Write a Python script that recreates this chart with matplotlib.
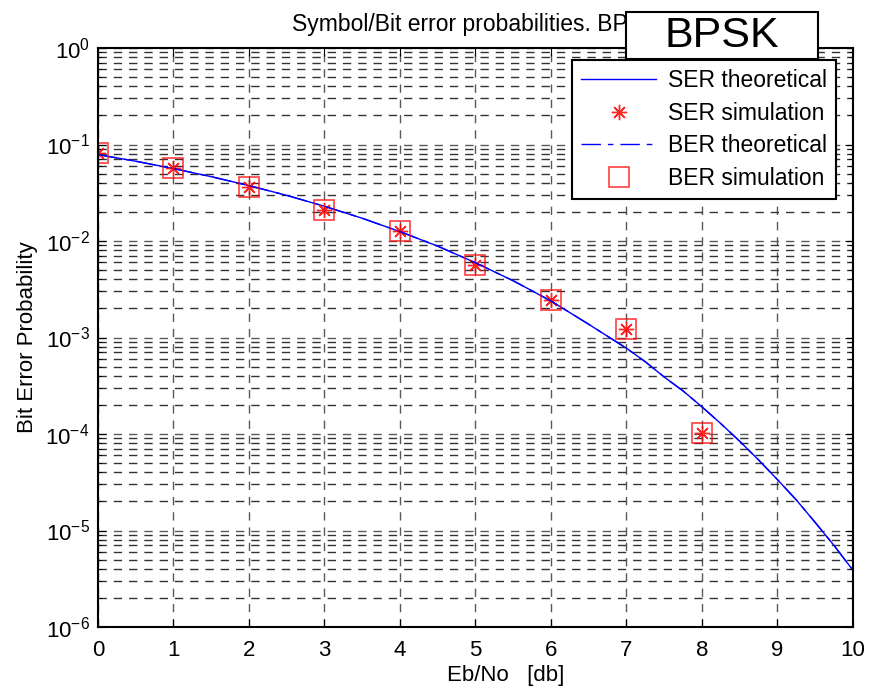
import math

import matplotlib
matplotlib.use("Agg")
import matplotlib.pyplot as plt
from matplotlib.patches import Rectangle
from matplotlib.ticker import FixedLocator, FuncFormatter, LogLocator

plt.rcParams["font.family"] = ["Liberation Sans", "DejaVu Sans"]
plt.rcParams["mathtext.fontset"] = "custom"
plt.rcParams["mathtext.rm"] = "Liberation Sans"
plt.rcParams["mathtext.it"] = "Liberation Sans"
plt.rcParams["mathtext.default"] = "regular"

# theoretical curve
ebno_theory = [0, 0.5, 1, 1.5, 2, 2.5, 3, 3.5, 4, 4.5, 5, 5.5, 6, 6.5, 7,
               7.25, 7.5, 7.75, 8, 8.25, 8.5, 8.75, 9, 9.25, 9.5, 9.75, 10]
ber_theory = [0.0786, 0.0671, 0.0563, 0.0464, 0.0375, 0.0297, 0.0229, 0.0172,
              0.0125, 0.00884, 0.00595, 0.00387, 0.00239, 0.00137, 0.000773,
              0.00056, 0.000389, 0.000279, 0.000191, 0.000128, 8.4e-5, 5.38e-5,
              3.36e-5, 2.07e-5, 1.21e-5, 6.97e-6, 3.87e-6]
ser_theory = ber_theory

# simulation points
ebno_sim = [0, 1, 2, 3, 4, 5, 6, 7, 8]
ser_sim = [0.0817, 0.0571, 0.0363, 0.021, 0.0127, 0.00564, 0.00245, 0.001225, 0.000102]
ber_sim = ser_sim

fig = plt.figure(figsize=(8.7, 6.95), dpi=100)
ax = fig.add_axes([98 / 870, 68 / 695, 755 / 870, 579 / 695])

ax.semilogy(ebno_theory, ser_theory, "-", color="blue", lw=1, label="SER theoretical")
ax.semilogy(ebno_sim, ser_sim, marker=(8, 2, 0), ls="none", color="red", ms=11,
            mew=1, alpha=0.85, label="SER simulation")
ax.semilogy(ebno_theory, ber_theory, color="blue", lw=1, dashes=(14, 5, 4, 5),
            label="BER theoretical")
ax.semilogy(ebno_sim, ber_sim, "s", color="red", mfc="none", ms=14, mew=1.2,
            alpha=0.75, label="BER simulation")

ax.set_xlim(0, 10)
ax.set_ylim(1e-6, 1)
ax.xaxis.set_major_locator(FixedLocator(range(0, 11)))
ax.yaxis.set_major_locator(LogLocator(base=10, numticks=10))
ax.yaxis.set_minor_locator(LogLocator(base=10, subs=range(2, 10), numticks=20))
ax.yaxis.set_major_formatter(
    FuncFormatter(lambda v, p: r"$10^{%d}$" % round(math.log10(v))))
ax.tick_params(which="both", direction="in", top=True, right=True, labelsize=16)
ax.tick_params(which="major", length=6)
ax.tick_params(which="minor", length=3)
ax.tick_params(axis="x", pad=9)
ax.tick_params(axis="y", pad=6)

ax.grid(True, which="major", color="0.35", ls=(0, (6, 5)), lw=1)
ax.grid(True, which="minor", axis="y", color="0.2", ls=(0, (6, 5)), lw=1)

for s in ax.spines.values():
    s.set_linewidth(1.5)

ax.set_xlabel("Eb/No   [db]", fontsize=16)
ax.xaxis.set_label_coords(0.54, -0.066)
ax.set_ylabel("Bit Error Probability", fontsize=16)
ax.yaxis.set_label_coords(-0.08, 0.5)
ax.set_title("Symbol/Bit error probabilities. BPSK", fontsize=16.5, pad=12)

leg = ax.legend(loc="upper right", bbox_to_anchor=(836 / 870, 1 - 60 / 695),
                bbox_transform=fig.transFigure, borderaxespad=0, fontsize=16.5,
                fancybox=False, framealpha=1, edgecolor="black",
                handlelength=3.3, borderpad=0.4, labelspacing=0.42,
                handletextpad=0.5)
leg.get_frame().set_linewidth(1.5)

fig.patches.append(Rectangle((626 / 870, 1 - 59 / 695), 192 / 870, 47 / 695,
                             transform=fig.transFigure, facecolor="white",
                             edgecolor="black", lw=1.5, zorder=5))
fig.text(722 / 870, 1 - 36 / 695, "BPSK", fontsize=31, ha="center", va="center",
         zorder=6)

fig.savefig("out.png", dpi=100)
